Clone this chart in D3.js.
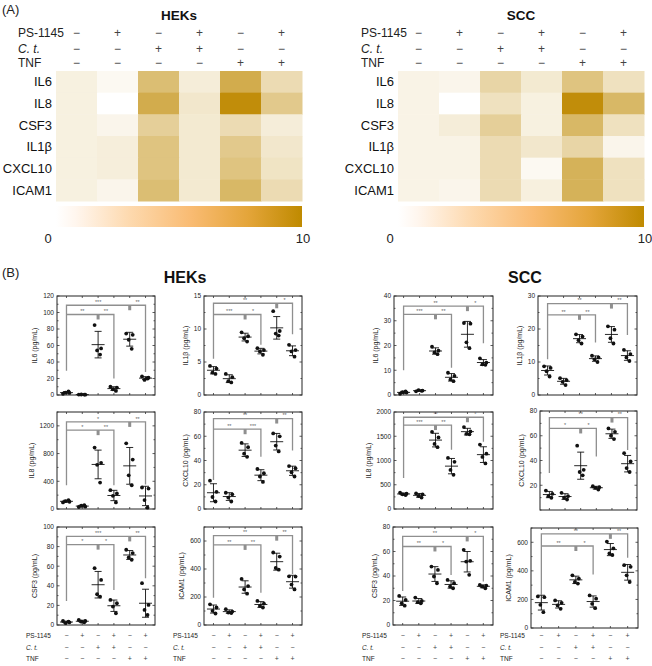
<!DOCTYPE html>
<html><head><meta charset="utf-8">
<script src="https://cdn.jsdelivr.net/npm/d3@7"></script>
<style>body{margin:0;background:#fff}svg{display:block;font-family:"Liberation Sans",Arial,sans-serif}</style>
</head><body><svg id="c" width="652" height="666"></svg>
<script>
// ---------- data ----------
const conditionLabels = ["PS-1145", "C. t.", "TNF"];
const signsPS  = ["−", "+", "−", "+", "−", "+"];
const signsCt  = ["−", "−", "+", "+", "−", "−"];
const signsTNF = ["−", "−", "−", "−", "+", "+"];
const genes = ["IL6", "IL8", "CSF3", "IL1β", "CXCL10", "ICAM1"];
const colorbarTicks = [0, 10];

const heatHEK = [
  [1.2, 0.5, 5.5, 1.5, 7.0, 3.0],
  [1.2, 0.0, 7.0, 2.0, 9.6, 4.5],
  [1.2, 0.8, 4.0, 1.8, 3.0, 1.5],
  [1.2, 1.4, 5.0, 1.8, 4.5, 2.0],
  [1.2, 1.4, 5.0, 1.8, 5.0, 2.3],
  [1.2, 0.8, 5.5, 1.8, 6.0, 3.0]
];
const heatSCC = [
  [1.0, 0.8, 3.5, 1.8, 5.0, 2.5],
  [1.0, 0.0, 2.5, 1.2, 9.6, 6.0],
  [1.0, 1.5, 4.0, 1.2, 6.0, 2.5],
  [1.0, 1.0, 3.0, 2.0, 3.5, 0.8],
  [1.0, 1.0, 3.0, 0.5, 6.5, 2.5],
  [1.0, 0.8, 3.0, 1.3, 6.5, 2.5]
];

// scatter panels: points per group (ctrl, PS, C.t., C.t.+PS, TNF, TNF+PS)
const hekIL6   = [[1.5,2.5,3,4.5],[0.5,0.4,0.6,0.5],[84.7,56.5,54,49],[10,9,7,5],[74.4,73,67,56],[22.5,21,18.3,20]];
const hekIL1b  = [[4.4,4.0,3.4,3.2],[3.2,2.7,2.1,1.9],[9.5,8.9,8.6,8.1],[7.1,6.8,6.6,6.1],[12.7,9.7,9.3,9.0],[7.6,6.8,6.6,5.8]];
const sccIL6   = [[0.5,1,1.2,1.5],[1.5,1.8,2,1.7],[19.5,17.9,17.2,16.5],[9,7.7,6.3,5.6],[29.1,28.8,21.3,18.9],[14.8,13.1,12.4,12.2]];
const sccIL1b  = [[8.7,8.2,7.2,5.6],[5.1,4.5,4.0,3.0],[18.4,17.7,16.6,15.6],[11.9,11.4,10.8,10],[20.8,19.8,17.2,15.6],[13.7,12.4,11.4,10.3]];
const hekIL8   = [[95,105,114,129],[29,33,48,57],[886,667,638,381],[271,224,190,95],[948,714,486,343],[310,295,129,19]];
const hekCXCL10= [[23.4,14.2,9.9,6.2],[13.4,12.1,9.4,6.2],[54.5,51,45.6,43],[33,29.5,26.8,22.3],[62.3,59.9,52.3,47.5],[35.4,33.6,30.3,26.8]];
const sccIL8   = [[335,315,302,289],[322,302,268,235],[1590,1476,1342,1275],[1053,973,805,704],[1690,1600,1550,1540],[1329,1141,1074,940]];
const sccCXCL10= [[15.7,13.1,11.2,9.9],[13.9,11.2,9.9,8.5],[52,32.5,30.7,28],[19.2,18.4,17.9,16.5],[65.9,63.2,60,57.3],[45.9,39.2,33.9,30.7]];
const hekCSF3  = [[4.1,2.7,2,3.4],[5.1,4.1,3.4,2.7],[58,46,31.4,29],[25.6,22.2,18.8,12],[76.8,73.4,69,66.6],[42.7,20.5,15.4,10.2]];
const hekICAM1 = [[148,125,101,82],[113,96,89,85],[329,278,254,224],[172,153,136,125],[518,489,407,395],[348,346,289,254]];
const sccCSF3  = [[23.7,20.5,17.7,15.8],[22.4,19.6,18.6,17.7],[47.7,45,39.6,34.1],[36.8,34.1,31.4,30],[61.4,52.4,51.8,41],[32.7,32.2,31.4,30]];
const sccICAM1 = [[221,216,162,111],[193,176,158,134],[369,346,322,311],[228,205,169,139],[605,558,522,511],[440,428,369,322]];

// significance brackets: [lowerLevel, upperLevel, leftDrop, lowerRightDrop, upperRightDrop]
const sigHekIL6    = [97.6, 108.8, 29.5, 20, 28];
const sigHekIL1b   = [12.2, 13.9, 5.5, 7.6, 9.2];
const sigSccIL6    = [32.6, 35.9, 10, 11, 20.9];
const sigSccIL1b   = [24.3, 27.7, 10.8, 15.9, 18.2];
const sigHekIL8    = [1138, 1257, 343, 343, 352];
const sigHekCXCL10 = [65.8, 74.6, 24, 43, 48.3];
const sigSccIL8    = [1731, 1892, 637, 1221, 1389];
const sigSccCXCL10 = [65.9, 74.7, 29.9, 43.2, 48.5];
const sigHekCSF3   = [82, 90.4, 24.6, 35.8, 47.8];
const sigHekICAM1  = [572, 638, 195, 231, 365];
const sigSccCSF3   = [64.1, 72.3, 27.8, 40.9, 35.5];
const sigSccICAM1  = [574, 659, 233, 374, 492];
// stars: [ctrl vs C.t., C.t. vs C.t.+PS, ctrl vs TNF, TNF vs TNF+PS]
const starsHekIL6    = ["**","**","***","**"];
const starsHekIL1b   = ["***","*","**","*"];
const starsSccIL6    = ["***","**","**","*"];
const starsSccIL1b   = ["**","**","**","**"];
const starsHekIL8    = ["*","**","*","**"];
const starsHekCXCL10 = ["**","***","**","**"];
const starsSccIL8    = ["***","**","**","*"];
const starsSccCXCL10 = ["*","*","**","**"];
const starsHekCSF3   = ["*","*","***","**"];
const starsHekICAM1  = ["**","**","**","**"];
const starsSccCSF3   = ["**","*","**","*"];
const starsSccICAM1  = ["**","*","**","**"];

const yMaxes = {IL6H:120, IL1bH:15, IL6S:40, IL1bS:30, IL8H:1400, CXH:80, IL8S:2000, CXS:80, CSH:100, ICH:700, CSS:80, ICS:700};
const yTicks = {
  IL6H:[0,20,40,60,80,100,120], IL1bH:[0,5,10,15], IL6S:[0,10,20,30,40], IL1bS:[0,10,20,30],
  IL8H:[0,400,800,1200], CXH:[0,20,40,60,80], IL8S:[0,500,1000,1500,2000], CXS:[20,40,60,80],
  CSH:[0,20,40,60,80,100], ICH:[0,200,400,600], CSS:[0,20,40,60,80], ICS:[0,200,400,600]
};

// ---------- drawing ----------
const svg = d3.select("#c");
const FONT = '"Liberation Sans",Arial,sans-serif';

svg.append("text").attr("x", 2).attr("y", 14).attr("font-size", 13).attr("fill", "#222").text("(A)");
svg.append("text").attr("x", 2).attr("y", 277).attr("font-size", 13).attr("fill", "#222").text("(B)");

// gradient for colorbar
const defs = svg.append("defs");
const grad = defs.append("linearGradient").attr("id", "cbar");
[["0%","#ffffff"],["8%","#fff6ee"],["30%","#fdd9ae"],["55%","#f9bb72"],["78%","#e4a53a"],["100%","#bf8a00"]]
  .forEach(([o,c]) => grad.append("stop").attr("offset", o).attr("stop-color", c));

const heatColor = d3.scaleLinear().domain([0, 10]).range(["#ffffff", "#be8800"]).interpolate(d3.interpolateRgb);

function heatmap(title, data, x0, labelX) {
  const g = svg.append("g");
  const x = d3.scaleBand().domain(d3.range(6)).range([x0, x0 + 246]);
  const y = d3.scaleBand().domain(genes).range([71, 201]);
  g.append("text").attr("x", x0 + 123).attr("y", 20).attr("text-anchor", "middle")
    .attr("font-size", 13.5).attr("font-weight", "bold").attr("fill", "#111").text(title);
  const signRows = [signsPS, signsCt, signsTNF];
  const rowY = [37, 53, 67];
  conditionLabels.forEach((lab, i) => {
    g.append("text").attr("x", labelX).attr("y", rowY[i]).attr("font-size", 12).attr("fill", "#222")
      .attr("font-style", i === 1 ? "italic" : "normal").text(lab);
    g.selectAll(null).data(signRows[i]).enter().append("text")
      .attr("x", (d, j) => x(j) + x.bandwidth() / 2).attr("y", rowY[i])
      .attr("text-anchor", "middle").attr("font-size", 12).attr("fill", "#444").text(d => d);
  });
  data.forEach((row, r) => {
    g.selectAll(null).data(row).enter().append("rect")
      .attr("x", (d, j) => x(j)).attr("y", y(genes[r]))
      .attr("width", x.bandwidth() + 0.5).attr("height", y.bandwidth() + 0.5)
      .attr("fill", d => heatColor(d));
  });
  g.selectAll(null).data(genes).enter().append("text")
    .attr("x", x0 - 4).attr("y", d => y(d) + y.bandwidth() / 2 + 4.5)
    .attr("text-anchor", "end").attr("font-size", 13).attr("fill", "#111").text(d => d);
  // colorbar
  const cb = d3.scaleLinear().domain([0, 10]).range([x0, x0 + 246]);
  g.append("rect").attr("x", x0).attr("y", 206).attr("width", 246).attr("height", 21).attr("fill", "url(#cbar)");
  g.selectAll(null).data(colorbarTicks).enter().append("text")
    .attr("x", d => d === 0 ? cb(d) - 8 : cb(d) + 1).attr("y", 243).attr("text-anchor", "middle")
    .attr("font-size", 13).attr("fill", "#222").text(d => d);
}
heatmap("HEKs", heatHEK, 56, 18);
heatmap("SCC", heatSCC, 398, 361);

svg.append("text").attr("x", 185).attr("y", 283).attr("text-anchor", "middle")
  .attr("font-size", 16).attr("font-weight", "bold").attr("fill", "#111").text("HEKs");
svg.append("text").attr("x", 525).attr("y", 283).attr("text-anchor", "middle")
  .attr("font-size", 16).attr("font-weight", "bold").attr("fill", "#111").text("SCC");

const jitter = [-3.5, 3, -1, 2];

function panel(box, title, groups, yMax, ticks, sig, stars, showSigns) {
  const [L, T, R, B] = box;
  const g = svg.append("g");
  const x = d3.scalePoint().domain(d3.range(6)).range([L, R]).padding(0.6);
  const y = d3.scaleLinear().domain([0, yMax]).range([B, T]);
  // frame
  g.append("rect").attr("x", L).attr("y", T).attr("width", R - L).attr("height", B - T)
    .attr("fill", "none").attr("stroke", "#222").attr("stroke-width", 1);
  // ticks inward
  const step = ticks.length > 1 ? ticks[1] - ticks[0] : yMax;
  const minor = [];
  for (let v = 0; v <= yMax + 1e-9; v += step / 2) minor.push(v);
  minor.forEach(v => {
    const major = ticks.some(t => Math.abs(t - v) < 1e-6);
    const len = major ? 2.5 : 1.5;
    g.append("line").attr("x1", L).attr("x2", L + len).attr("y1", y(v)).attr("y2", y(v)).attr("stroke", "#333").attr("stroke-width", 0.8);
    g.append("line").attr("x1", R).attr("x2", R - len).attr("y1", y(v)).attr("y2", y(v)).attr("stroke", "#333").attr("stroke-width", 0.8);
  });
  d3.range(6).forEach(i => {
    g.append("line").attr("x1", x(i)).attr("x2", x(i)).attr("y1", T).attr("y2", T + 2).attr("stroke", "#333").attr("stroke-width", 0.8);
    g.append("line").attr("x1", x(i)).attr("x2", x(i)).attr("y1", B).attr("y2", B - 2).attr("stroke", "#333").attr("stroke-width", 0.8);
  });
  const tl = g.selectAll(null).data(ticks).enter().append("text")
    .attr("x", L - 3).attr("y", d => y(d) + 2.3).attr("text-anchor", "end")
    .attr("font-size", 6.5).attr("fill", "#222").text(d => d);
  let minX = L - 3;
  tl.each(function () { minX = Math.min(minX, this.getBBox().x); });
  g.append("text").attr("transform", `translate(${minX - 6},${(T + B) / 2}) rotate(-90)`)
    .attr("text-anchor", "middle").attr("font-size", 7).attr("fill", "#222").text(title + " (pg/mL)");

  // brackets
  const [lo, up, leftDrop, loRight, upRight] = sig;
  const bc = "#8f8f8f";
  const path = (pts) => g.append("path").attr("d", d3.line()(pts)).attr("fill", "none")
    .attr("stroke", bc).attr("stroke-width", 1.3);
  path([[x(0), y(leftDrop)], [x(0), y(up)], [x(5), y(up)], [x(5), y(upRight)]]);
  path([[x(0), y(lo)], [x(3), y(lo)], [x(3), y(loRight)]]);
  g.append("line").attr("x1", x(2)).attr("x2", x(2)).attr("y1", y(lo)).attr("y2", y(lo) + 5)
    .attr("stroke", bc).attr("stroke-width", 3);
  g.append("line").attr("x1", x(4)).attr("x2", x(4)).attr("y1", y(up)).attr("y2", y(up) + 5)
    .attr("stroke", bc).attr("stroke-width", 3);
  const starPos = [[0, 2, lo], [2, 3, lo], [0, 4, up], [4, 5, up]];
  starPos.forEach(([a, b, lev], i) => {
    g.append("text").attr("x", (x(a) + x(b)) / 2).attr("y", y(lev) - 1.2)
      .attr("text-anchor", "middle").attr("font-size", 5.5).attr("fill", "#666").text(stars[i]);
  });

  // data
  groups.forEach((pts, i) => {
    const m = d3.mean(pts), s = d3.deviation(pts);
    const cx = x(i);
    g.append("line").attr("x1", cx).attr("x2", cx).attr("y1", y(m - s)).attr("y2", y(m + s)).attr("stroke", "#111").attr("stroke-width", 0.9);
    [m - s, m + s].forEach(v => g.append("line").attr("x1", cx - 3.5).attr("x2", cx + 3.5).attr("y1", y(v)).attr("y2", y(v)).attr("stroke", "#111").attr("stroke-width", 0.9));
    g.append("line").attr("x1", cx - 6.5).attr("x2", cx + 6.5).attr("y1", y(m)).attr("y2", y(m)).attr("stroke", "#111").attr("stroke-width", 0.9);
    g.selectAll(null).data(pts).enter().append("circle")
      .attr("cx", (d, k) => cx + jitter[k]).attr("cy", d => y(d)).attr("r", 1.9).attr("fill", "#111");
  });

  if (showSigns) {
    const rows = [signsPS, signsCt, signsTNF];
    const ry = [638, 650, 661];
    conditionLabels.forEach((lab, i) => {
      g.append("text").attr("x", L - 31).attr("y", ry[i]).attr("font-size", 6.5).attr("fill", "#222")
        .attr("font-style", i === 1 ? "italic" : "normal").text(lab);
      g.selectAll(null).data(rows[i]).enter().append("text")
        .attr("x", (d, j) => x(j)).attr("y", ry[i]).attr("text-anchor", "middle")
        .attr("font-size", 7).attr("fill", "#444").text(d => d);
    });
  }
}

const colL = [[57,155],[204,302],[394,493],[538,637]];
const rowT = [[296,395],[412,509],[527,625]];
const bx = (c, r) => [colL[c][0], rowT[r][0], colL[c][1], rowT[r][1]];

panel(bx(0,0), "IL6",   hekIL6,   yMaxes.IL6H,  yTicks.IL6H,  sigHekIL6,  starsHekIL6,  false);
panel(bx(1,0), "IL1β",  hekIL1b,  yMaxes.IL1bH, yTicks.IL1bH, sigHekIL1b, starsHekIL1b, false);
panel(bx(2,0), "IL6",   sccIL6,   yMaxes.IL6S,  yTicks.IL6S,  sigSccIL6,  starsSccIL6,  false);
panel(bx(3,0), "IL1β",  sccIL1b,  yMaxes.IL1bS, yTicks.IL1bS, sigSccIL1b, starsSccIL1b, false);
panel(bx(0,1), "IL8",   hekIL8,   yMaxes.IL8H,  yTicks.IL8H,  sigHekIL8,  starsHekIL8,  false);
panel(bx(1,1), "CXCL10",hekCXCL10,yMaxes.CXH,   yTicks.CXH,   sigHekCXCL10, starsHekCXCL10, false);
panel(bx(2,1), "IL8",   sccIL8,   yMaxes.IL8S,  yTicks.IL8S,  sigSccIL8,  starsSccIL8,  false);
panel([540,411,637,510], "CXCL10",sccCXCL10,yMaxes.CXS, yTicks.CXS, sigSccCXCL10, starsSccCXCL10, false);
panel(bx(0,2), "CSF3",  hekCSF3,  yMaxes.CSH,   yTicks.CSH,   sigHekCSF3, starsHekCSF3, true);
panel(bx(1,2), "ICAM1", hekICAM1, yMaxes.ICH,   yTicks.ICH,   sigHekICAM1, starsHekICAM1, true);
panel([393,527,493,625], "CSF3", sccCSF3, yMaxes.CSS, yTicks.CSS, sigSccCSF3, starsSccCSF3, true);
panel([531,528,638,628], "ICAM1", sccICAM1, yMaxes.ICS, yTicks.ICS, sigSccICAM1, starsSccICAM1, true);
</script></body></html>
